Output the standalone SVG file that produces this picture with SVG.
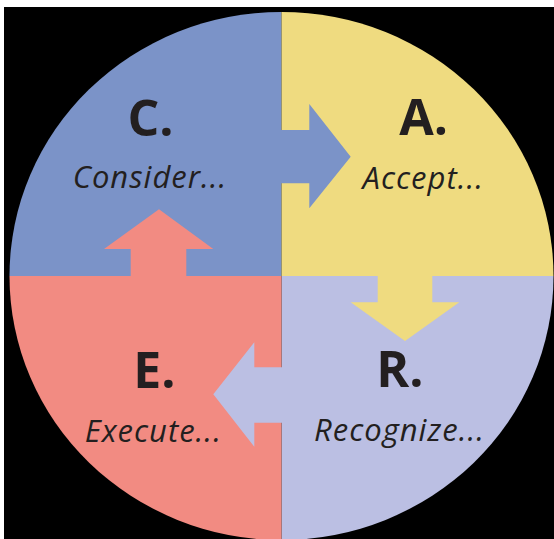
<svg xmlns="http://www.w3.org/2000/svg" width="554" height="539" viewBox="0 0 554 539">
<style>
.l{font-family:"Open Sans","DejaVu Sans",sans-serif;font-weight:700;font-size:50px;fill:#231f20;text-anchor:middle}
.s{font-family:"Open Sans","DejaVu Sans",sans-serif;font-style:italic;font-size:31px;letter-spacing:1px;fill:#231f20;text-anchor:middle}
</style>
<defs>
<clipPath id="cc"><ellipse cx="281.5" cy="276" rx="272" ry="264"/></clipPath>
</defs>
<rect width="554" height="539" fill="#ffffff"/>
<rect x="4" y="7" width="550" height="532" fill="#000000"/>
<g clip-path="url(#cc)">
<g id="consider"><rect x="0" y="0" width="281.5" height="276" fill="#7b93c8"/></g>
<g id="accept"><rect x="281.5" y="0" width="273" height="276" fill="#efdb80"/></g>
<g id="recognize"><rect x="281.5" y="276" width="273" height="264" fill="#bbbfe3"/></g>
<g id="execute"><rect x="0" y="276" width="281.5" height="264" fill="#f28b82"/></g>
</g>
<g id="connectors">
<polygon fill="#7b93c8" points="281,130 309.3,130 309.3,104 350.7,156.7 309.3,208.3 309.3,183.3 281,183.3"/>
<polygon fill="#efdb80" points="377.7,275 432.3,275 432.3,302.3 459.3,302.3 405,341 350.7,302.3 377.7,302.3"/>
<polygon fill="#bbbfe3" points="282,367.3 254.3,367.3 254.3,342.3 213.3,394.3 254.3,446.7 254.3,422.7 282,422.7"/>
<polygon fill="#f28b82" points="130.7,277 130.7,249 104,249 159,209.3 213.3,249 186.3,249 186.3,277"/>
</g>
<g id="t-consider"><text class="l" x="150.5" y="135.7">C.</text><text class="s" x="150" y="188.3">Consider...</text></g>
<g id="t-accept"><text class="l" x="423.7" y="135">A.</text><text class="s" x="423.3" y="189.3">Accept...</text></g>
<g id="t-execute"><text class="l" x="154.5" y="388.3">E.</text><text class="s" x="153.3" y="441.7">Execute...</text></g>
<g id="t-recognize"><text class="l" x="400" y="387.3">R.</text><text class="s" x="399.5" y="441">Recognize...</text></g>
</svg>
